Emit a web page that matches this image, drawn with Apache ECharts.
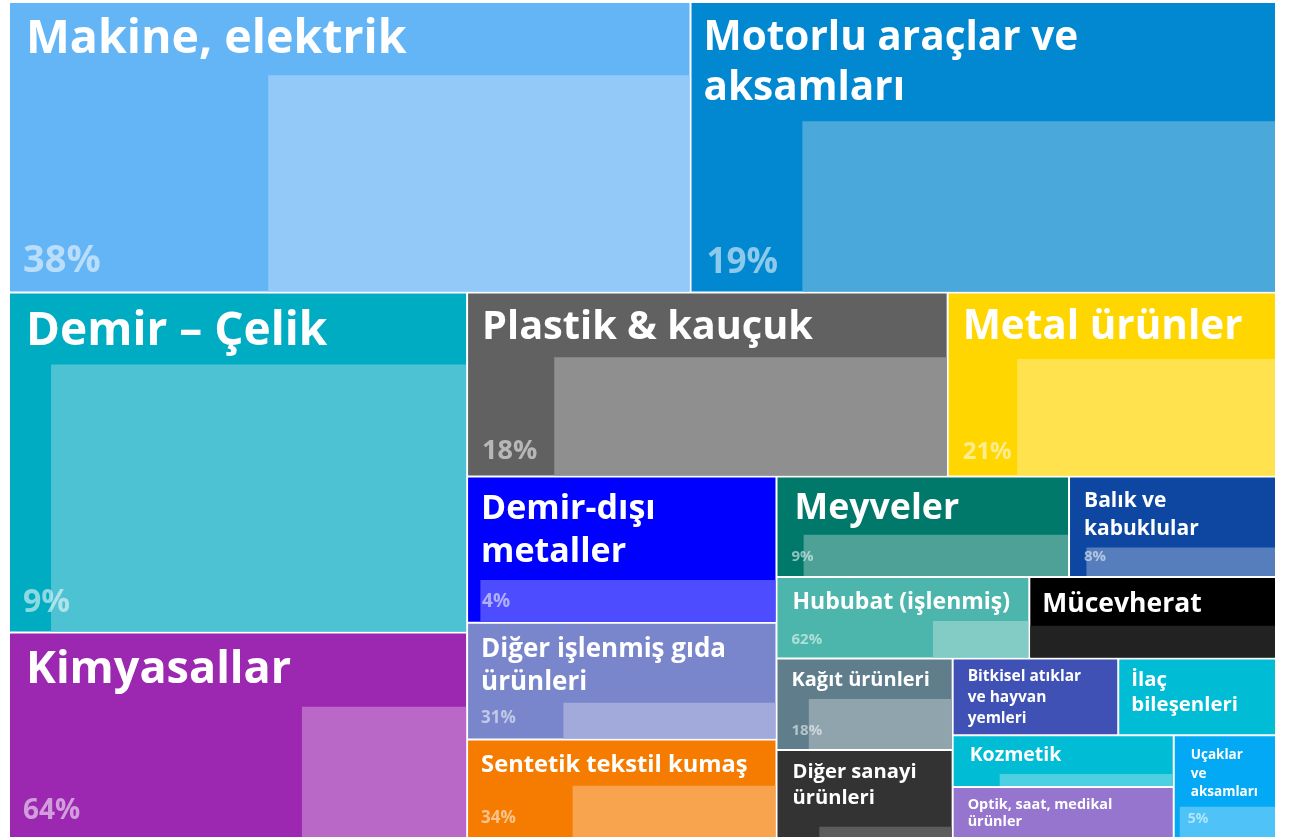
<!DOCTYPE html>
<html>
<head>
<meta charset="utf-8">
<title>Sektörler</title>
<script src="https://cdn.jsdelivr.net/npm/echarts@6/dist/echarts.min.js"></script>
<style>
html, body { margin: 0; padding: 0; background: #fff; }
#chart { width: 1291px; height: 840px; }
</style>
</head>
<body>
<div id="chart"></div>
<script>
// sektörler ve değerleri
const names = ['Makine, elektrik', 'Motorlu araçlar ve\naksamları', 'Demir – Çelik', 'Kimyasallar',
  'Plastik & kauçuk', 'Metal ürünler', 'Demir-dışı\nmetaller', 'Diğer işlenmiş gıda\nürünleri',
  'Sentetik tekstil kumaş', 'Meyveler', 'Balık ve\nkabuklular', 'Hububat (işlenmiş)', 'Mücevherat',
  'Kağıt ürünleri', 'Diğer sanayi\nürünleri', 'Bitkisel atıklar\nve hayvan\nyemleri', 'İlaç\nbileşenleri',
  'Kozmetik', 'Optik, saat, medikal\nürünler', 'Uçaklar\nve\naksamları'];
const values = [1980, 1701, 1557, 941, 884, 604, 452, 361, 305, 294, 208, 206, 201, 161, 155, 127, 121, 114, 113, 105];
// yüzde (sol şerit) ve iç kutunun yükseklik oranı
const shares = [38, 19, 9, 64, 18, 21, 4, 31, 34, 9, 8, 62, 0, 18, 24, null, null, 21, null, 5];
const innerHeights = [0.75, 0.59, 0.79, 0.64, 0.65, 0.64, 0.29, 0.31, 0.53, 0.42, 0.29, 0.46, 0.40, 0.56, 0.12, null, null, 0.24, null, 0.30];
// gruplama (indeksler)
const groups = [[0, 1], [2, 3, [[4, 5], [6, 7, 8, [[9, 10], [[11, 12], [13, 14, [[15, 16], [17, 18, 19]]]]]]]]];

const colors = ['#64B5F6', '#0288D1', '#00ACC1', '#9C27B0', '#616161', '#FFD600', '#0000FF', '#7986CB',
  '#F57C00', '#00796B', '#0D47A1', '#4DB6AC', '#000000', '#607D8B', '#333333', '#3F51B5', '#00BCD4',
  '#00BCD4', '#9575CD', '#03A9F4'];
const innerColors = ['#92C9F8', '#4BA8DB', '#4DC2D3', '#BA68C8', '#8F8F8F', '#FFE24D', '#4D4DFF', '#A1AADB',
  '#F8A34D', '#4DA197', '#567EBD', '#82CCC5', '#222222', '#90A4AE', '#5C5C5C', null, null,
  '#4DD0E1', null, '#4FC3F7'];
// isim etiketi: [fontSize, lineHeight, üst, sol]
const nameStyle = [[46.5, 53, 10.5, 16], [40.5, 50, 10, 12], [46, 50, 13.3, 16], [45, 50, 11.7, 16],
  [39.7, 42, 13, 14], [40.5, 42, 12.7, 14], [34, 43, 10.3, 13], [26, 33, 9.1, 13], [23.7, 30, 9.7, 13],
  [35.7, 40, 11.3, 17], [21, 28, 9.1, 14], [23, 28, 10.6, 15], [26.5, 30, 10.9, 12], [20, 24, 8.6, 14],
  [20.2, 26, 8.3, 15], [15.5, 20.7, 7, 14], [20.4, 25, 7.8, 12], [19.5, 24, 7, 16], [14.4, 17, 8.3, 14],
  [13.5, 18.5, 9.9, 16]];
// yüzde etiketi: [fontSize, alttan taban çizgisi, sol]
const pctStyle = [[38, 20, 13], [35, 19, 15], [32, 19.5, 13], [28, 17.5, 13], [27, 17, 14], [24, 17, 14],
  [19, 15, 14], [17, 15, 13], [17, 14, 13], [15, 15, 14], [15, 15, 14], [15, 13.5, 14], [15, 14, 14],
  [15, 14, 14], [15, 14, 14], null, null, [15, 14, 14], null, [14, 14, 13]];

const FONT = '"Open Sans", "Noto Sans", sans-serif';

function build(node) {
  if (Array.isArray(node)) return { name: '', children: node.map(build) };
  const s = nameStyle[node];
  return {
    name: names[node],
    value: values[node],
    itemStyle: { color: colors[node] },
    label: { fontSize: s[0], lineHeight: s[1], padding: [s[2], 2, 0, s[3]] }
  };
}

const chart = echarts.init(document.getElementById('chart'));
chart.setOption({
  animation: false,
  series: [{
    type: 'treemap',
    left: 10, top: 3, width: 1265, height: 834,
    sort: false,
    squareRatio: 3,
    roam: false,
    nodeClick: false,
    silent: true,
    visibleMin: 0,
    breadcrumb: { show: false },
    itemStyle: { borderWidth: 0, gapWidth: 2, borderColor: '#fff' },
    label: {
      show: true,
      position: 'insideTopLeft',
      distance: 0,
      color: '#fff',
      fontFamily: FONT,
      fontWeight: 'bold',
      overflow: 'none'
    },
    upperLabel: { show: false },
    data: groups.map(build)
  }]
});

// iç kutular ve yüzde etiketleri, treemap yerleşiminden
const model = chart.getModel().getSeriesByIndex(0);
const box = model.layoutInfo;
const extra = [];
model.getData().tree.root.eachNode(function (node) {
  if (node.children && node.children.length) return;
  const i = names.indexOf(node.name);
  if (i < 0 || shares[i] == null) return;
  let x = box.x, y = box.y;
  for (let n = node; n; n = n.parentNode) {
    const l = n.getLayout();
    x += l.x || 0;
    y += l.y || 0;
  }
  const w = node.getLayout().width, h = node.getLayout().height;
  const ih = h * innerHeights[i];
  extra.push({
    type: 'rect', z: 10, silent: true,
    shape: { x: x + w * shares[i] / 100, y: y + h - ih, width: w * (1 - shares[i] / 100), height: ih },
    style: { fill: innerColors[i] }
  });
  const p = pctStyle[i];
  if (shares[i] >= 1 && ih >= 20) {
    extra.push({
      type: 'text', z: 11, silent: true,
      x: x + p[2], y: y + h - p[1] - 0.285 * p[0],
      style: {
        text: shares[i] + '%', fill: 'rgba(255,255,255,0.55)',
        font: 'bold ' + p[0] + 'px ' + FONT, verticalAlign: 'middle'
      }
    });
  }
});
chart.setOption({ graphic: extra });
</script>
</body>
</html>
